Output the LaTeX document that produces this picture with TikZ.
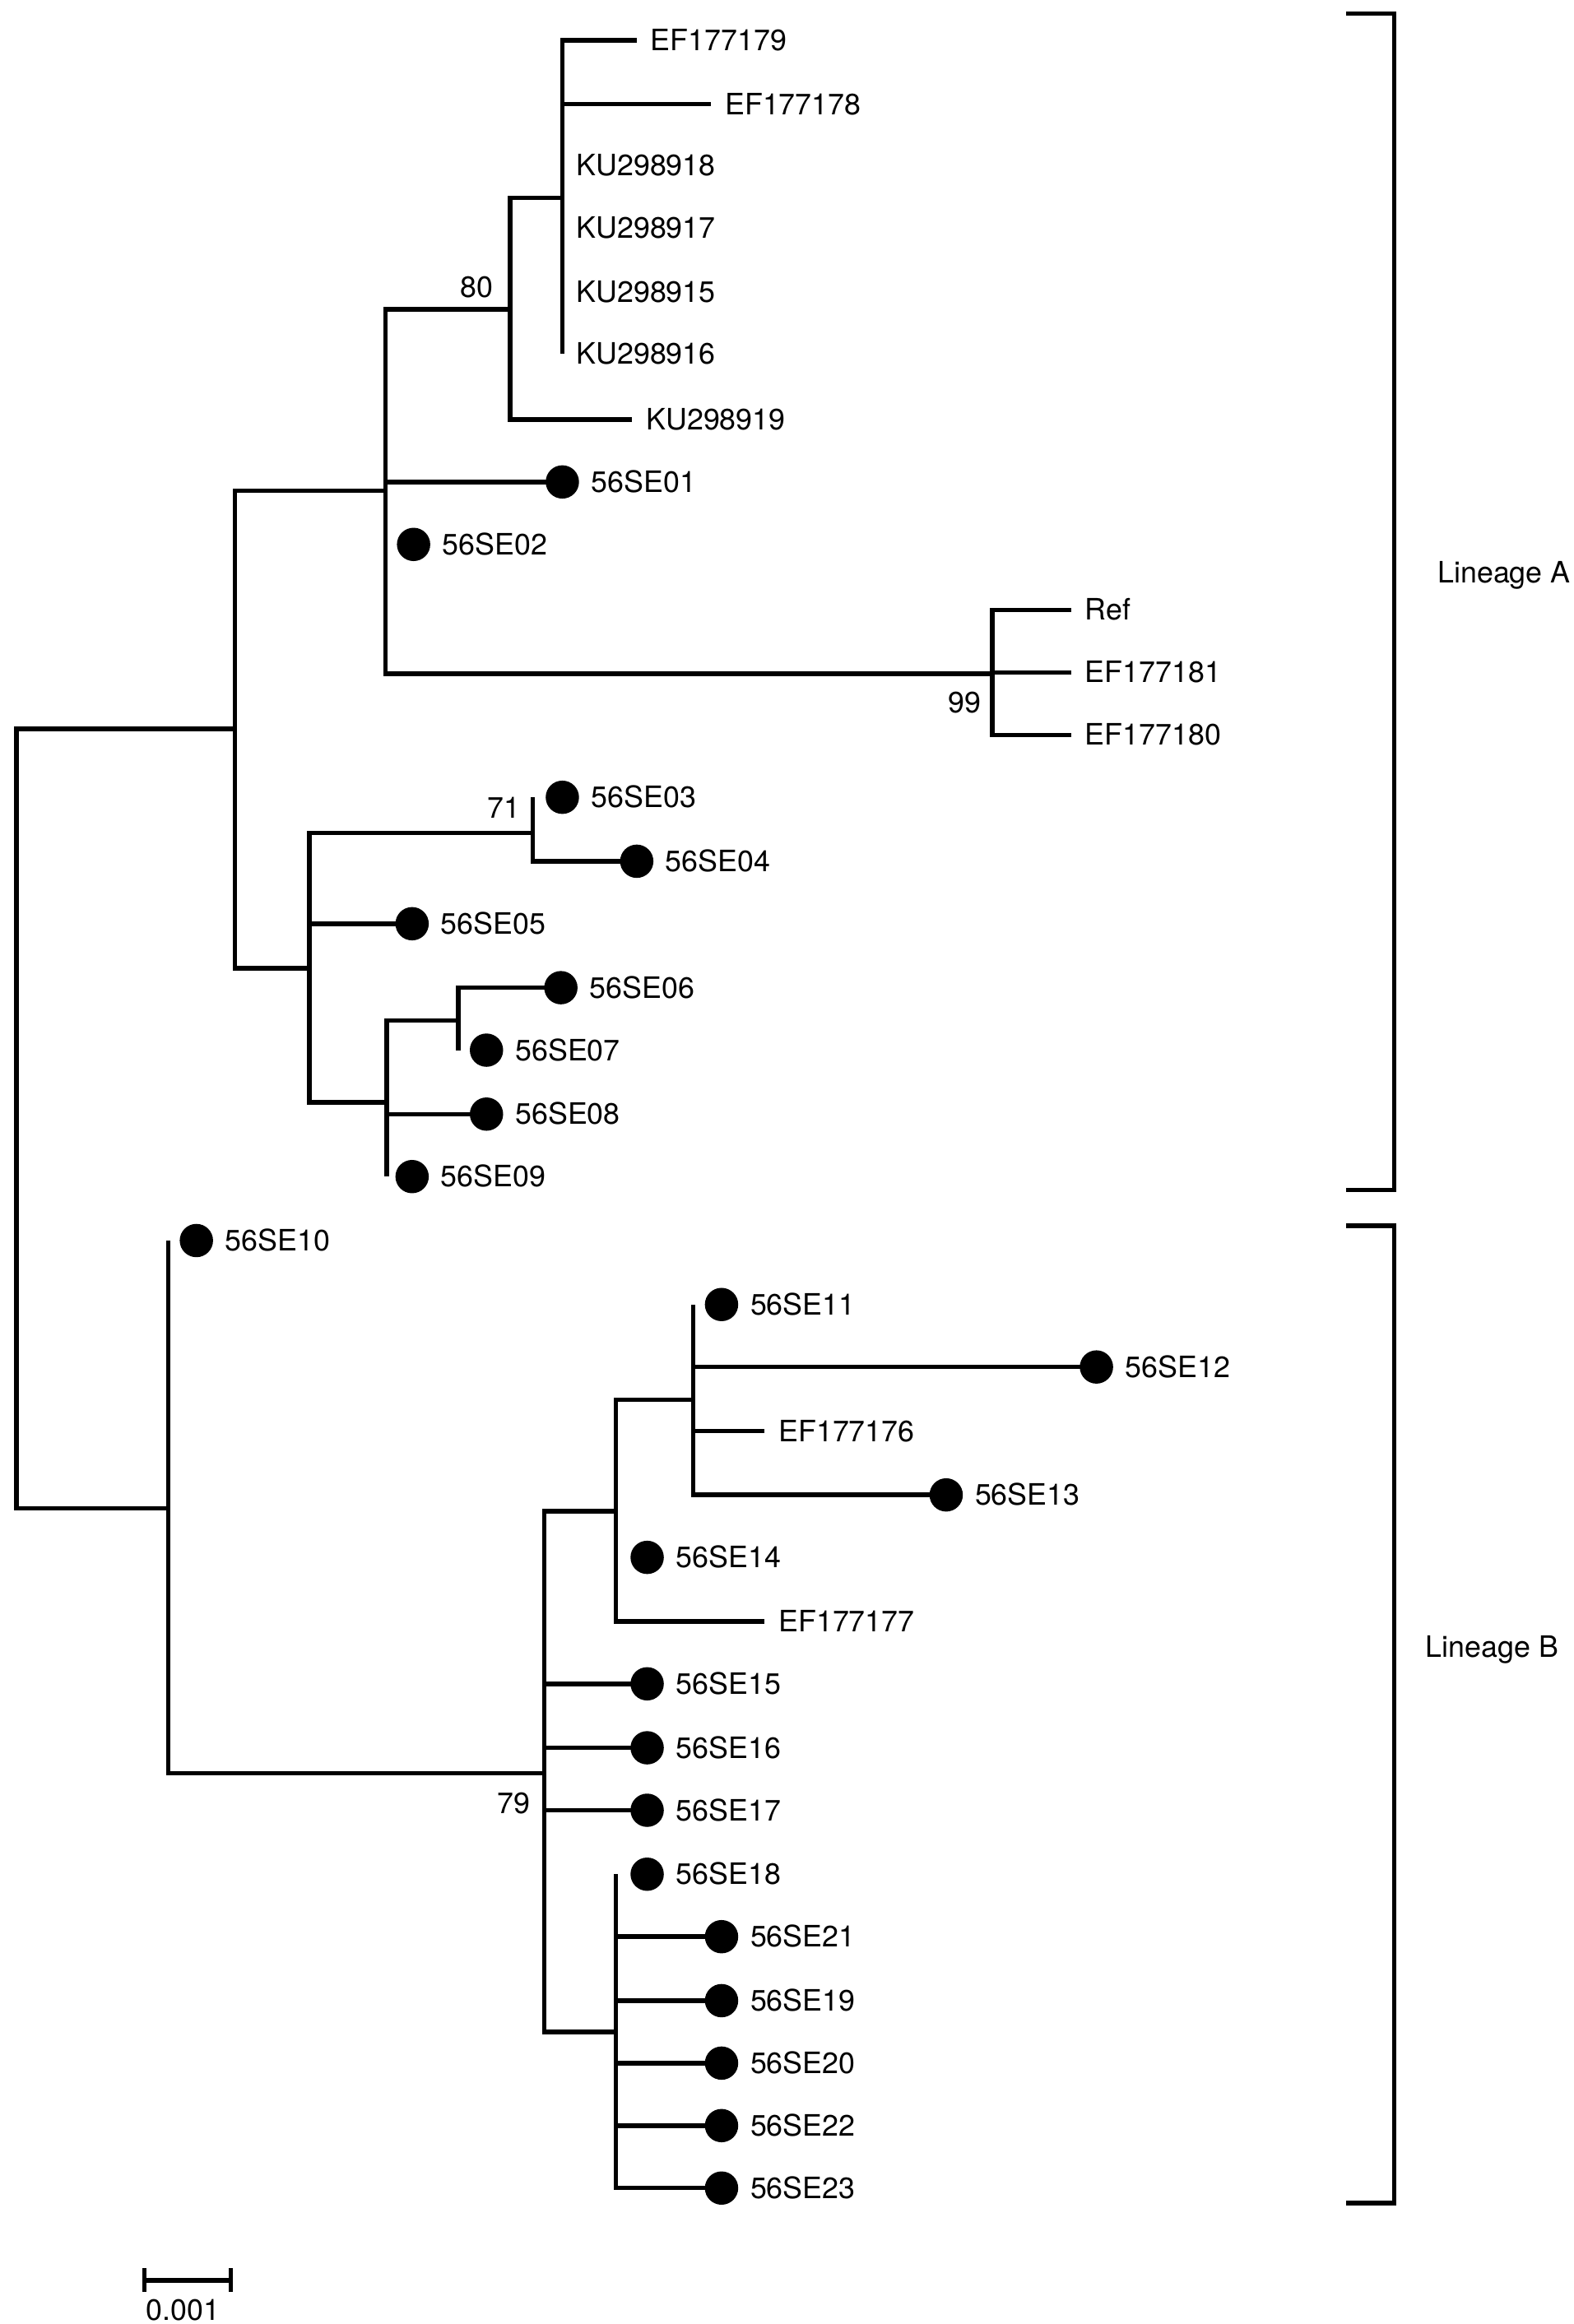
\documentclass[tikz,border=0pt]{standalone}
\usepackage{fontspec}
\setmainfont{TeX Gyre Heros}
\usetikzlibrary{shapes.geometric}
\newcommand\mydleaf[5]{%
  \coordinate (t#1) at (#3,#5);
  \draw[branch] (#2) |- (t#1);
  \node[dot] (d#1) at (#4,#5) {};
  \node[lab] (l#1) at (#4+19,#5+7) {#1};}
\newcommand\mypleaf[4]{%
  \coordinate (t#1) at (#3,#4);
  \draw[branch] (#2) |- (t#1);
  \node[lab] (l#1) at (#3+9,#4+7) {#1};}
\begin{document}
\begin{tikzpicture}[x=0.5pt,y=-0.5pt,
  branch/.style={draw=black, line width=1.5pt, line join=miter},
  dot/.style={circle, fill=black, inner sep=0pt, minimum size=11.2pt},
  lab/.style={anchor=base west, inner sep=0pt, font=\fontsize{9.9}{12}\selectfont},
  boot/.style={anchor=base east, inner sep=0pt, font=\fontsize{9.9}{12}\selectfont}]
\useasboundingbox (0,0) rectangle (1058,1562.4);
% backbone
\coordinate (root) at (11,752);
\coordinate (A) at (158,490);
\coordinate (B) at (113,1014);
\draw[branch] (root) |- (A);
\draw[branch] (root) |- (B);
\coordinate (a1) at (259,330); \draw[branch] (A) |- (a1);
\coordinate (a2) at (208,651); \draw[branch] (A) |- (a2);
\coordinate (n80) at (343,208); \draw[branch] (a1) |- (n80);
\coordinate (n378) at (378,133); \draw[branch] (n80) |- (n378);
\mypleaf{EF177179}{n378}{428}{27}
\mypleaf{EF177178}{n378}{478}{70}
\mypleaf{KU298918}{n378}{378}{111}
\mypleaf{KU298917}{n378}{378}{153}
\mypleaf{KU298915}{n378}{378}{196}
\mypleaf{KU298916}{n378}{378}{238}
\mypleaf{KU298919}{n80}{425}{282}
\mydleaf{56SE01}{a1}{378}{378}{324}
\mydleaf{56SE02}{a1}{259}{278}{366}
\coordinate (nref) at (667,453); \draw[branch] (a1) |- (nref);
\mypleaf{Ref}{nref}{720}{410}
\mypleaf{EF177181}{nref}{720}{452}
\mypleaf{EF177180}{nref}{720}{494}
\coordinate (n71) at (358,560); \draw[branch] (a2) |- (n71);
\mydleaf{56SE03}{n71}{358}{378}{536}
\mydleaf{56SE04}{n71}{428}{428}{579}
\mydleaf{56SE05}{a2}{277}{277}{621}
\coordinate (a3) at (260,741); \draw[branch] (a2) |- (a3);
\coordinate (a4) at (308,686); \draw[branch] (a3) |- (a4);
\mydleaf{56SE06}{a4}{377}{377}{664}
\mydleaf{56SE07}{a4}{308}{327}{706}
\mydleaf{56SE08}{a3}{327}{327}{749}
\mydleaf{56SE09}{a3}{260}{277}{791}
% lineage B
\mydleaf{56SE10}{B}{113}{132}{834}
\coordinate (n79) at (366,1192); \draw[branch] (B) |- (n79);
\coordinate (b1) at (414,1016); \draw[branch] (n79) |- (b1);
\coordinate (b2) at (466,941); \draw[branch] (b1) |- (b2);
\mydleaf{56SE11}{b2}{466}{485}{877}
\mydleaf{56SE12}{b2}{737}{737}{919}
\mypleaf{EF177176}{b2}{514}{962}
\mydleaf{56SE13}{b2}{636}{636}{1005}
\mydleaf{56SE14}{b1}{414}{435}{1047}
\mypleaf{EF177177}{b1}{514}{1090}
\mydleaf{56SE15}{n79}{435}{435}{1132}
\mydleaf{56SE16}{n79}{435}{435}{1175}
\mydleaf{56SE17}{n79}{435}{435}{1217}
\coordinate (b3) at (414,1366); \draw[branch] (n79) |- (b3);
\mydleaf{56SE18}{b3}{414}{435}{1260}
\mydleaf{56SE21}{b3}{485}{485}{1302}
\mydleaf{56SE19}{b3}{485}{485}{1345}
\mydleaf{56SE20}{b3}{485}{485}{1387}
\mydleaf{56SE22}{b3}{485}{485}{1429}
\mydleaf{56SE23}{b3}{485}{485}{1471}
% bootstrap values
\node[boot] (bs80) at (332,200) {80};
\node[boot] (bs99) at (660,479) {99};
\node[boot] (bs71) at (350,550) {71};
\node[boot] (bs79) at (357,1219) {79};
% brackets
\coordinate (LAt) at (905,9); \coordinate (LAtr) at (937,9);
\coordinate (LAbr) at (937,800); \coordinate (LAb) at (905,800);
\draw[branch] (LAt) -- (LAtr) -- (LAbr) -- (LAb);
\node[lab] (LA) at (966,392) {Lineage A};
\coordinate (LBt) at (905,824); \coordinate (LBtr) at (937,824);
\coordinate (LBbr) at (937,1481); \coordinate (LBb) at (905,1481);
\draw[branch] (LBt) -- (LBtr) -- (LBbr) -- (LBb);
\node[lab] (LB) at (958,1114) {Lineage B};
% scale bar
\coordinate (s1) at (97,1533); \coordinate (s2) at (155,1533);
\coordinate (s1u) at (97,1525); \coordinate (s1d) at (97,1541);
\coordinate (s2u) at (155,1525); \coordinate (s2d) at (155,1541);
\draw[branch] (s1) -- (s2);
\draw[branch] (s1u) -- (s1d);
\draw[branch] (s2u) -- (s2d);
\node[lab, anchor=base] (sbl) at (123,1560) {0.001};
\end{tikzpicture}
\end{document}
